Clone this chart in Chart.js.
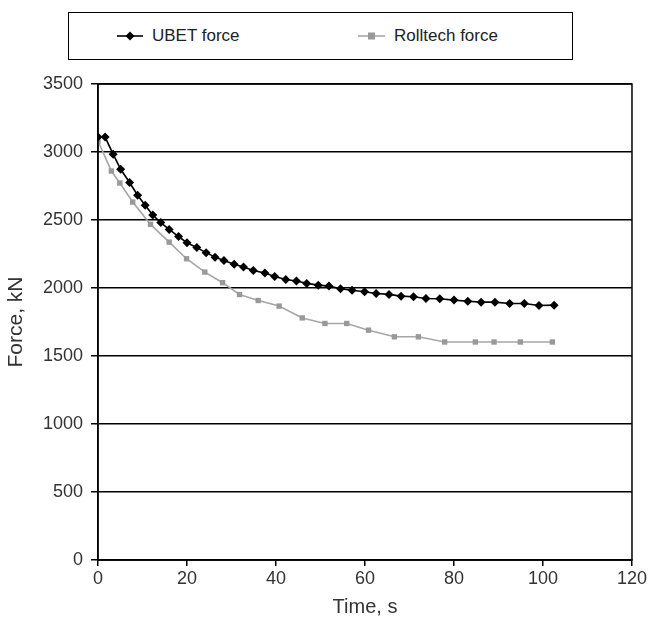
<!DOCTYPE html>
<html>
<head>
<meta charset="utf-8">
<script src="https://cdn.jsdelivr.net/npm/chart.js@4.4.0/dist/chart.umd.min.js"></script>
<style>
  body { margin: 0; background: #fff; font-family: "Liberation Sans", Arial, sans-serif; }
  #wrap { position: relative; width: 649px; height: 620px; }
  #legend {
    position: absolute; left: 68px; top: 12px; width: 505px; height: 48px;
    border: 1.5px solid #000; box-sizing: border-box; background: #fff;
  }
  .item { position: absolute; top: 13px; font-size: 17px; color: #222; display: flex; align-items: center; }
  .item svg { margin-right: 9px; }
</style>
</head>
<body>
<div id="wrap">
  <canvas id="forceChart" width="649" height="620"></canvas>
  <div id="legend">
    <div class="item" style="left:48px">
      <svg width="26" height="12"><line x1="0" y1="6" x2="26" y2="6" stroke="#000" stroke-width="1.6"/><polygon points="13,1.5 17.5,6 13,10.5 8.5,6" fill="#000"/></svg>UBET force
    </div>
    <div class="item" style="left:289px">
      <svg width="27" height="12"><line x1="0" y1="6" x2="27" y2="6" stroke="#a6a6a6" stroke-width="1.6"/><rect x="10" y="2.5" width="7" height="7" fill="#999"/></svg>Rolltech force
    </div>
  </div>
</div>
<script>
// values
const ubetTime = [0, 1.6, 3.4, 5.1, 7.1, 8.9, 10.6, 12.3, 14.1, 16.0, 18.1, 20.0, 22.2, 24.3, 26.3, 28.3,
    30.6, 32.7, 34.9, 37.5, 39.7, 42.2, 44.6, 46.9, 49.5, 51.9, 54.5, 57.1, 59.9, 62.5, 65.4, 68.1,
    70.9, 73.7, 76.8, 80.0, 83.1, 86.1, 89.2, 92.5, 95.8, 99.1, 102.5];
const ubetForce = [3110, 3110, 2984, 2873, 2776, 2682, 2608, 2537, 2481, 2431, 2378, 2333, 2297, 2260, 2227, 2203,
    2174, 2154, 2128, 2110, 2084, 2063, 2051, 2034, 2021, 2014, 1995, 1984, 1972, 1960, 1953, 1940,
    1936, 1923, 1921, 1911, 1903, 1896, 1896, 1886, 1886, 1871, 1874];

const rollTime = [0, 3.0, 4.9, 7.8, 11.8, 16.0, 19.9, 24.0, 28.0, 31.8, 36.0, 40.7, 45.9, 51.0, 55.9, 60.8,
    66.6, 72.0, 77.9, 84.8, 89.0, 94.9, 102.1];
const rollForce = [3080, 2860, 2772, 2632, 2468, 2337, 2215, 2117, 2039, 1952, 1908, 1867, 1780, 1739, 1739, 1690,
    1641, 1641, 1603, 1603, 1603, 1603, 1603];

const xTicks = [0, 20, 40, 60, 80, 100, 120];
const yTicks = [0, 500, 1000, 1500, 2000, 2500, 3000, 3500];

const toPoints = (xs, ys) => xs.map((x, i) => ({ x: x, y: ys[i] }));

// box around the plot area (top + right edges)
const frame = {
    id: 'frame',
    afterDraw(chart) {
        const a = chart.chartArea, c = chart.ctx;
        c.save();
        c.strokeStyle = '#000';
        c.lineWidth = 1.5;
        c.strokeRect(a.left, a.top, a.right - a.left, a.bottom - a.top);
        c.restore();
    }
};

Chart.defaults.font.family = '"Liberation Sans", Arial, sans-serif';
Chart.defaults.color = '#333';

new Chart(document.getElementById('forceChart'), {
    type: 'line',
    data: {
        datasets: [{
            label: 'UBET force',
            data: toPoints(ubetTime, ubetForce),
            borderColor: '#000',
            backgroundColor: '#000',
            borderWidth: 1.6,
            pointStyle: 'rectRot',
            pointRadius: 4.5,
            pointBorderWidth: 0,
            tension: 0
        }, {
            label: 'Rolltech force',
            data: toPoints(rollTime, rollForce),
            borderColor: '#a6a6a6',
            backgroundColor: '#999',
            borderWidth: 1.6,
            pointStyle: 'rect',
            pointRadius: 3.8,
            pointBorderWidth: 0,
            tension: 0
        }]
    },
    plugins: [frame],
    options: {
        responsive: false,
        animation: false,
        layout: { padding: { left: 0, top: 84, right: 14, bottom: 0 } },
        plugins: { legend: { display: false }, tooltip: { enabled: false } },
        scales: {
            x: {
                type: 'linear',
                min: 0, max: 120,
                afterBuildTicks: s => { s.ticks = xTicks.map(v => ({ value: v })); },
                afterFit: s => { s.height = 60; },
                grid: { drawOnChartArea: false, drawTicks: true, tickLength: 6, color: '#000', lineWidth: 1.5 },
                border: { color: '#000', width: 1.5 },
                ticks: { font: { size: 18 }, padding: 2, maxRotation: 0, callback: v => String(v) },
                title: { display: true, text: 'Time, s', font: { size: 20 }, padding: { top: 0, bottom: 1 } }
            },
            y: {
                min: 0, max: 3500,
                afterBuildTicks: s => { s.ticks = yTicks.map(v => ({ value: v })); },
                afterFit: s => { s.width = 98; },
                grid: { color: '#000', lineWidth: 1.5, tickLength: 7 },
                border: { color: '#000', width: 1.5 },
                ticks: { font: { size: 18 }, padding: 8, callback: v => String(v) },
                title: { display: true, text: 'Force, kN', font: { size: 21 }, padding: { top: 4, bottom: 4 } }
            }
        }
    }
});
</script>
</body>
</html>
